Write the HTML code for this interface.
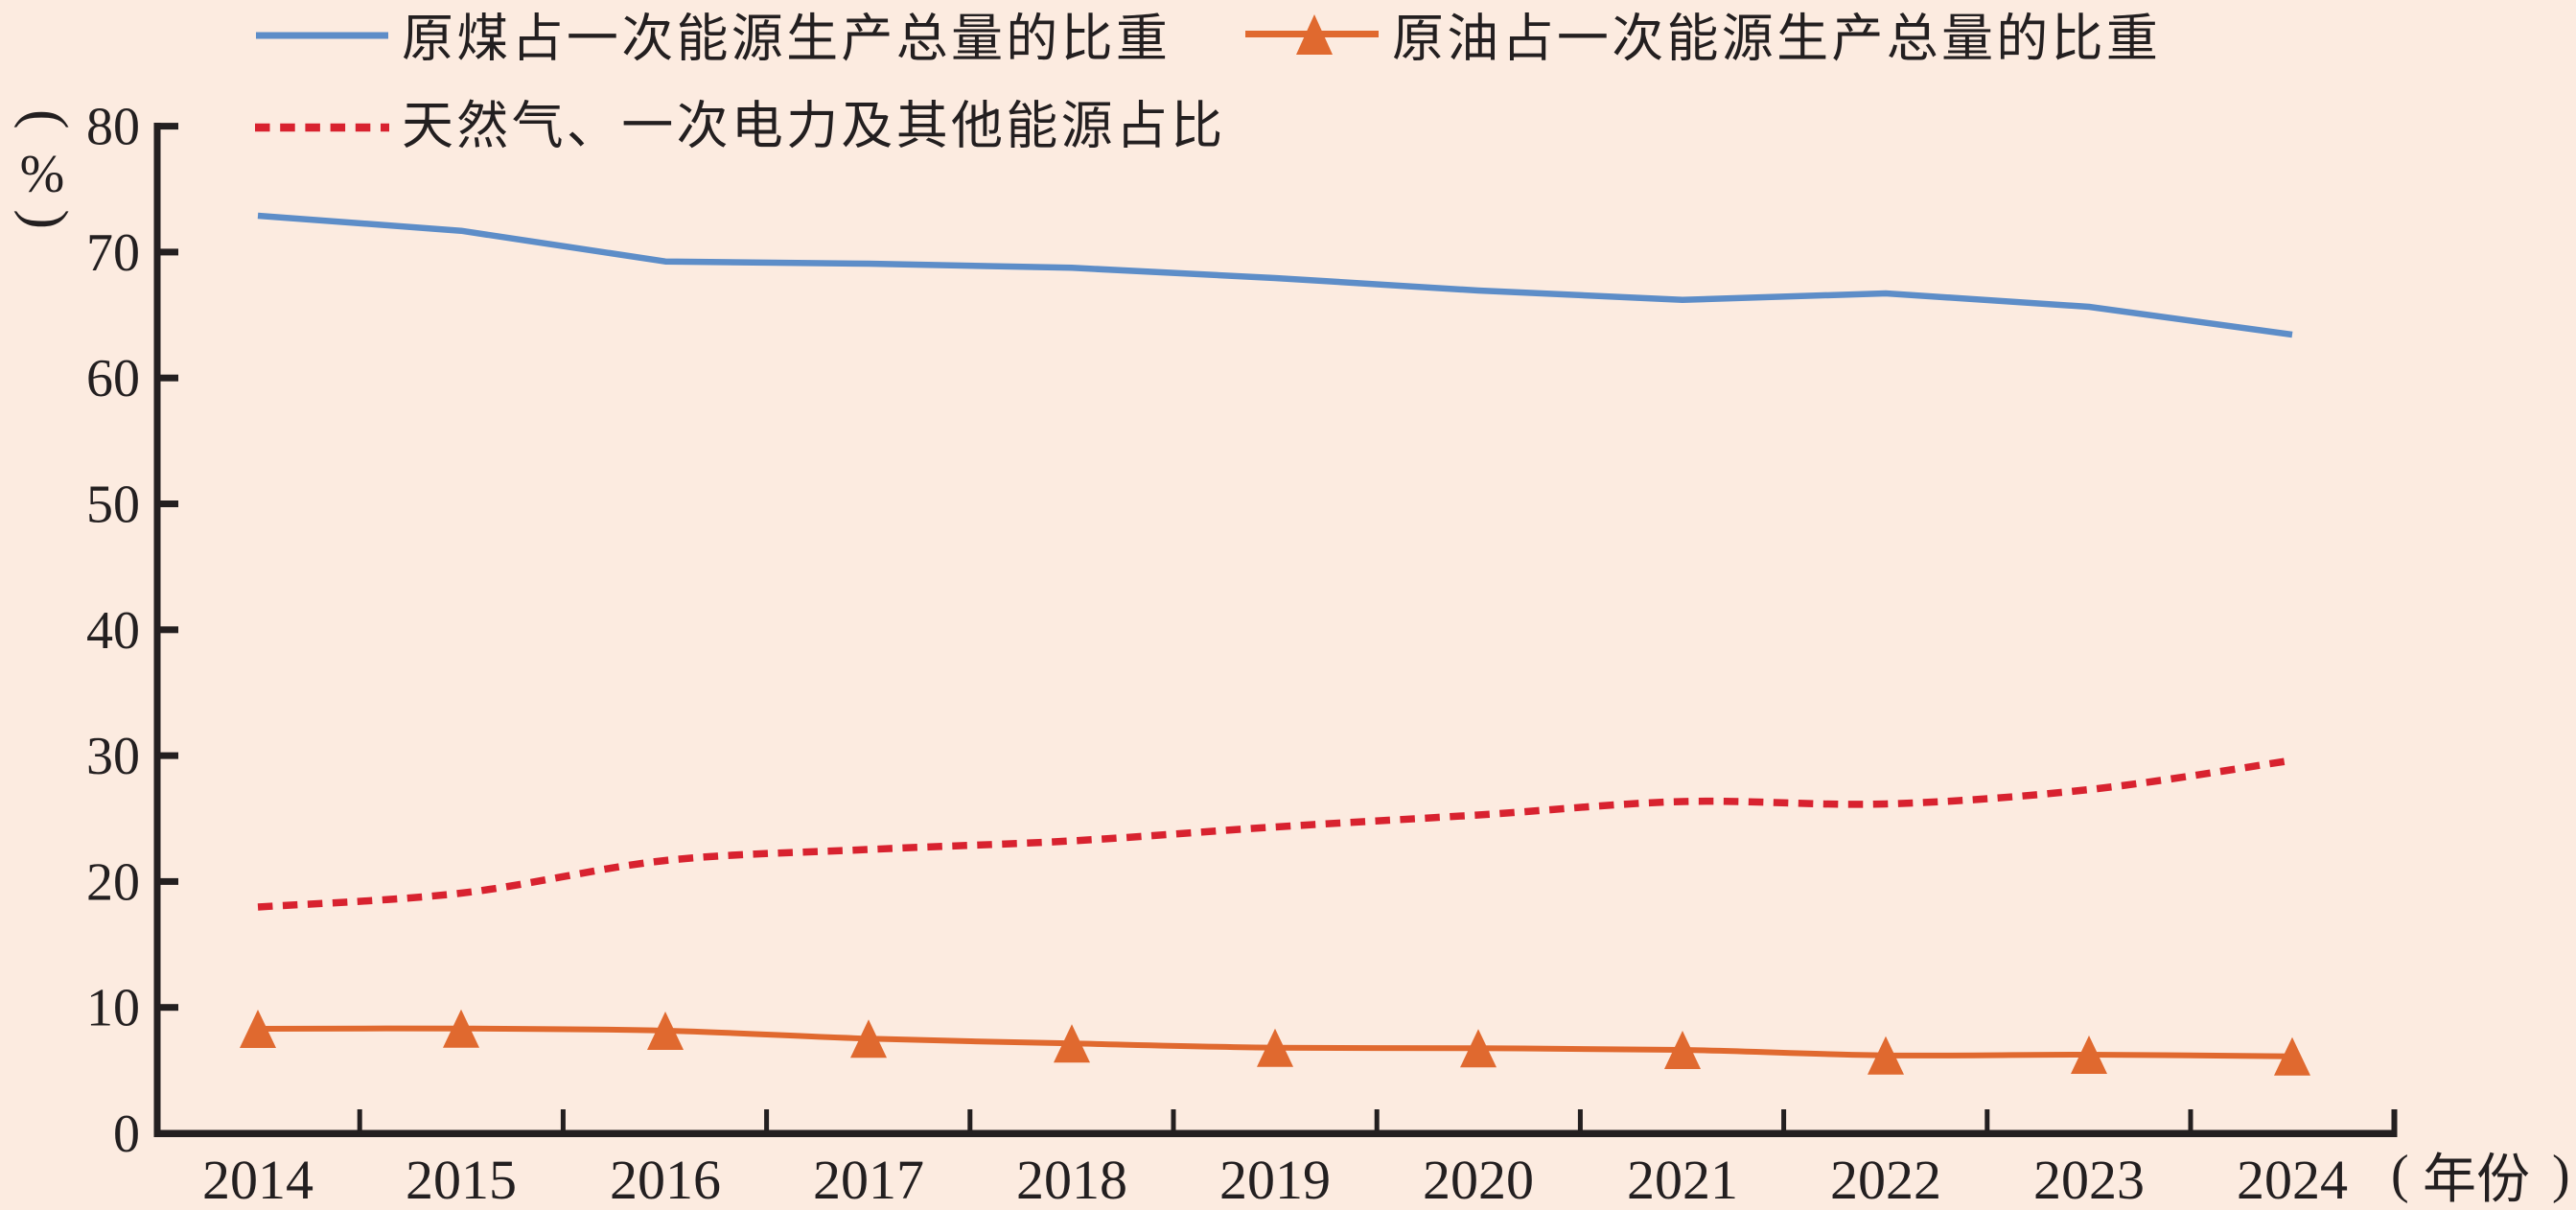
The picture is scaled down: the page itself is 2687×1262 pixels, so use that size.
<!DOCTYPE html>
<html>
<head>
<meta charset="utf-8">
<style>
  html,body{margin:0;padding:0;background:#fcebe0;}
  svg{display:block;}
  .num{font-family:"Liberation Serif",serif;fill:#231f20;}
  .cjk{font-family:"Liberation Sans","Noto Sans CJK SC",sans-serif;fill:#231f20;}
</style>
</head>
<body>
<svg width="2687" height="1262" viewBox="0 0 2687 1262" xmlns="http://www.w3.org/2000/svg">
  <rect x="0" y="0" width="2687" height="1262" fill="#fcebe0"/>

  <!-- Legend -->
  <line x1="267" y1="37" x2="405" y2="37" stroke="#5d8dc8" stroke-width="7"/>
  <text class="cjk" x="419" y="58.5" font-size="54" style="letter-spacing:3.3px">原煤占一次能源生产总量的比重</text>

  <line x1="1299" y1="35.5" x2="1438" y2="35.5" stroke="#e0692f" stroke-width="7"/>
  <polygon points="1352,57 1390,57 1371,15" fill="#e0692f"/>
  <text class="cjk" x="1452" y="58.5" font-size="54" style="letter-spacing:3.3px">原油占一次能源生产总量的比重</text>

  <line x1="266" y1="133" x2="406" y2="133" stroke="#d8222f" stroke-width="8.5" stroke-dasharray="15.5 10.7"/>
  <text class="cjk" x="419" y="149.5" font-size="54" style="letter-spacing:3.3px">天然气、一次电力及其他能源占比</text>

  <!-- Y axis unit label (%) -->
  <text class="num" font-size="62" transform="translate(28,114) rotate(90)">(</text>
  <text class="num" font-size="56" x="44" y="200" text-anchor="middle">%</text>
  <text class="num" font-size="62" transform="translate(28,218.4) rotate(90)">)</text>

  <!-- Y tick labels -->
  <g class="num" font-size="56" text-anchor="end">
    <text x="146" y="150.6">80</text>
    <text x="146" y="281.9">70</text>
    <text x="146" y="413.2">60</text>
    <text x="146" y="544.5">50</text>
    <text x="146" y="675.8">40</text>
    <text x="146" y="807.1">30</text>
    <text x="146" y="938.4">20</text>
    <text x="146" y="1069.7">10</text>
    <text x="146" y="1201">0</text>
  </g>

  <!-- Axes -->
  <g fill="#231f20">
    <rect x="160.5" y="128" width="7" height="1058"/>
    <rect x="160.5" y="1178.5" width="2340" height="7.5"/>
    <!-- y ticks -->
    <rect x="164" y="128.1" width="22" height="7"/>
    <rect x="164" y="259.4" width="22" height="7"/>
    <rect x="164" y="390.7" width="22" height="7"/>
    <rect x="164" y="522" width="22" height="7"/>
    <rect x="164" y="653.3" width="22" height="7"/>
    <rect x="164" y="784.6" width="22" height="7"/>
    <rect x="164" y="915.9" width="22" height="7"/>
    <rect x="164" y="1047.2" width="22" height="7"/>
    <!-- x ticks -->
    <rect x="372.7" y="1157" width="5" height="26"/>
    <rect x="584.9" y="1157" width="5" height="26"/>
    <rect x="797.1" y="1157" width="5" height="26"/>
    <rect x="1009.3" y="1157" width="5" height="26"/>
    <rect x="1221.5" y="1157" width="5" height="26"/>
    <rect x="1433.7" y="1157" width="5" height="26"/>
    <rect x="1645.9" y="1157" width="5" height="26"/>
    <rect x="1858.1" y="1157" width="5" height="26"/>
    <rect x="2070.3" y="1157" width="5" height="26"/>
    <rect x="2282.5" y="1157" width="5" height="26"/>
    <rect x="2494.5" y="1157" width="6" height="26"/>
  </g>

  <!-- X tick labels -->
  <g class="num" font-size="58" text-anchor="middle">
    <text x="269" y="1250">2014</text>
    <text x="481" y="1250">2015</text>
    <text x="694" y="1250">2016</text>
    <text x="906" y="1250">2017</text>
    <text x="1118" y="1250">2018</text>
    <text x="1330" y="1250">2019</text>
    <text x="1542" y="1250">2020</text>
    <text x="1755" y="1250">2021</text>
    <text x="1967" y="1250">2022</text>
    <text x="2179" y="1250">2023</text>
    <text x="2391" y="1250">2024</text>
  </g>

  <!-- X axis unit label -->
  <text class="num" font-size="56" x="2494" y="1243">(</text>
  <text class="cjk" font-size="56" x="2555" y="1248.8" text-anchor="middle">年</text>
  <text class="cjk" font-size="56" x="2611" y="1248.8" text-anchor="middle">份</text>
  <text class="num" font-size="56" x="2662" y="1243">)</text>

  <!-- Coal series (blue) -->
  <polyline fill="none" stroke="#5d8dc8" stroke-width="6.5" stroke-linejoin="round"
    points="269,225 481,240.7 694,272.7 906,275 1118,279.3 1330,290 1542,303 1755,312.7 1967,306 2179,320 2391,349"/>

  <!-- Natural gas etc. (red dashed, smoothed) -->
  <path fill="none" stroke="#d8222f" stroke-width="7.5" stroke-dasharray="15.5 10.5"
    d="M269,946 C304,943.6 410,939.6 481,931.5 C552,923.4 623,905.1 694,897.5 C765,889.9 835,889.4 906,886 C977,882.6 1047,880.9 1118,877 C1189,873.1 1259,867 1330,862.5 C1401,858 1471,854.4 1542,850 C1613,845.6 1684,837.9 1755,836 C1826,834.1 1896,840.6 1967,838.5 C2038,836.4 2108,831.1 2179,823.5 C2250,815.9 2356,798.1 2391,793"/>

  <!-- Oil series (orange, smoothed) -->
  <path fill="none" stroke="#e0692f" stroke-width="6"
    d="M269,1073 C304,1073 410,1072.4 481,1072.7 C552,1073 623,1073.2 694,1075 C765,1076.8 835,1081.1 906,1083.3 C977,1085.5 1047,1086.7 1118,1088.3 C1189,1089.9 1259,1091.9 1330,1092.7 C1401,1093.5 1471,1092.9 1542,1093.3 C1613,1093.7 1684,1093.8 1755,1095 C1826,1096.2 1896,1099.9 1967,1100.7 C2038,1101.5 2108,1099.8 2179,1100 C2250,1100.2 2356,1101.4 2391,1101.7"/>

  <!-- Oil markers -->
  <g fill="#e0692f">
    <polygon points="250,1093 288,1093 269,1053"/>
    <polygon points="462,1092.7 500,1092.7 481,1052.7"/>
    <polygon points="675,1095 713,1095 694,1055"/>
    <polygon points="887,1103.3 925,1103.3 906,1063.3"/>
    <polygon points="1099,1108.3 1137,1108.3 1118,1068.3"/>
    <polygon points="1311,1112.7 1349,1112.7 1330,1072.7"/>
    <polygon points="1523,1113.3 1561,1113.3 1542,1073.3"/>
    <polygon points="1736,1115 1774,1115 1755,1075"/>
    <polygon points="1948,1120.7 1986,1120.7 1967,1080.7"/>
    <polygon points="2160,1120 2198,1120 2179,1080"/>
    <polygon points="2372,1121.7 2410,1121.7 2391,1081.7"/>
  </g>
</svg>
</body>
</html>
